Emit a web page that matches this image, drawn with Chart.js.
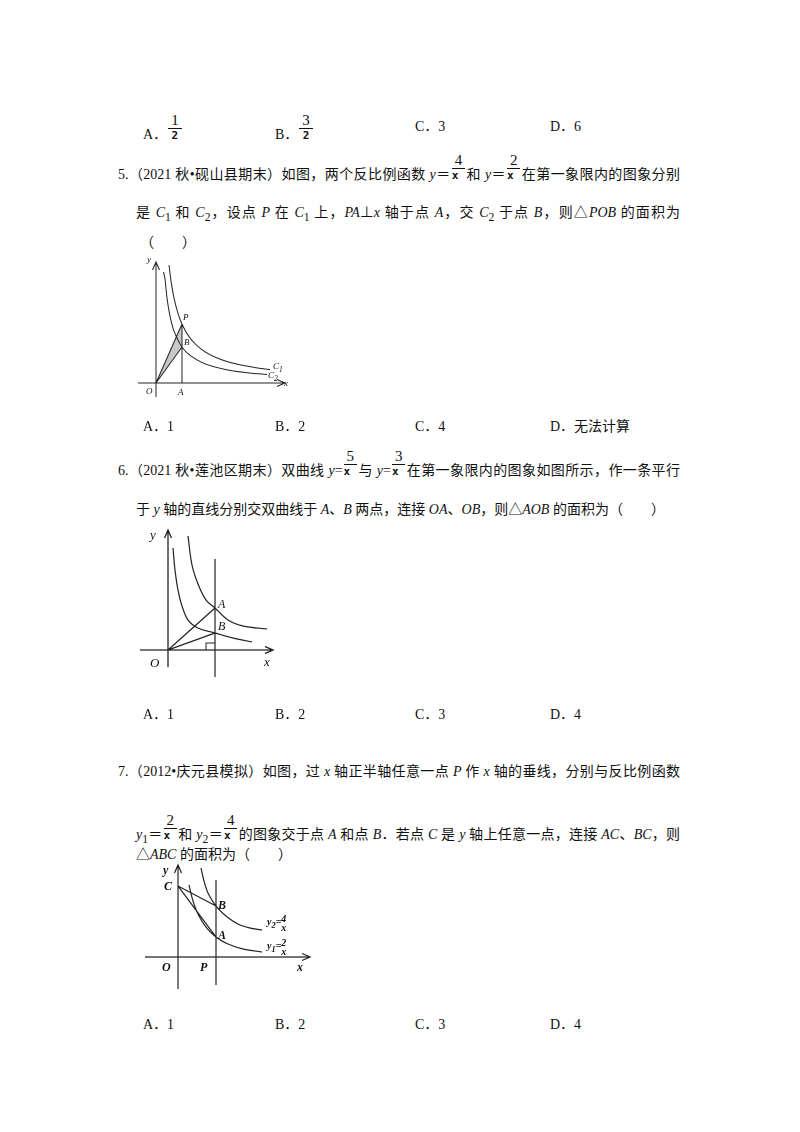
<!DOCTYPE html>
<html><head><meta charset="utf-8">
<script src="https://cdn.jsdelivr.net/npm/chart.js@4"></script>
<style>
body{margin:0;width:800px;height:1132px;background:#fff;position:relative;font-family:"Liberation Serif","Noto Sans CJK SC",serif;font-size:14px;color:#111}
.t{position:absolute;left:118px;width:562px;line-height:20px;white-space:nowrap}
.c{left:136px;width:544px}
.j{text-align:justify;text-align-last:justify}
.o{position:absolute;line-height:20px}
i{font-style:italic}
.fr{display:inline-block;text-align:center;margin:0 1px}
.fr .n{display:block;font-size:15px;border-bottom:1px solid #111;line-height:16px;padding:0 3px}
.fr .d{display:block;font-family:"DejaVu Sans Mono",monospace;font-size:11px;font-weight:bold;line-height:14px}
.lb{position:absolute;font-style:italic;font-family:"Liberation Serif",serif;font-size:9px}
canvas{position:absolute}
</style></head><body>
<div class="o" style="left:143px;top:112px">A．<span class="fr"><span class="n">1</span><span class="d">2</span></span></div>
<div class="o" style="left:275px;top:112px">B．<span class="fr"><span class="n">3</span><span class="d">2</span></span></div>
<div class="o" style="left:415px;top:117px">C．3</div>
<div class="o" style="left:550px;top:117px">D．6</div>

<div class="t j" style="top:152px">5.（2021 秋•砚山县期末）如图，两个反比例函数 <i>y</i>＝<span class="fr"><span class="n">4</span><span class="d">x</span></span>和 <i>y</i>＝<span class="fr"><span class="n">2</span><span class="d">x</span></span>在第一象限内的图象分别</div>
<div class="t c j" style="top:203px">是 <i>C</i><sub>1</sub> 和 <i>C</i><sub>2</sub>，设点 <i>P</i> 在 <i>C</i><sub>1</sub> 上，<i>PA</i>⊥<i>x</i> 轴于点 <i>A</i>，交 <i>C</i><sub>2</sub> 于点 <i>B</i>，则△<i>POB</i> 的面积为</div>
<div class="t" style="top:233px;left:140px">（　　）</div>
<canvas id="c1" width="154" height="145" style="left:136px;top:255px;width:154px;height:145px"></canvas>
<div class="lb" style="left:147px;top:254px">y</div>
<div class="lb" style="left:183px;top:312px">P</div>
<div class="lb" style="left:184px;top:337px">B</div>
<div class="lb" style="left:273px;top:361px">C<sub>1</sub></div>
<div class="lb" style="left:268px;top:370px">C<sub>2</sub></div>
<div class="lb" style="left:284px;top:378px">x</div>
<div class="lb" style="left:146px;top:386px">O</div>
<div class="lb" style="left:178px;top:387px">A</div>
<div class="o" style="left:143px;top:417px">A．1</div>
<div class="o" style="left:275px;top:417px">B．2</div>
<div class="o" style="left:415px;top:417px">C．4</div>
<div class="o" style="left:550px;top:417px">D．无法计算</div>

<div class="t j" style="top:448px">6.（2021 秋•莲池区期末）双曲线 <i>y</i>=<span class="fr"><span class="n">5</span><span class="d">x</span></span>与 <i>y</i>=<span class="fr"><span class="n">3</span><span class="d">x</span></span>在第一象限内的图象如图所示，作一条平行</div>
<div class="t c" style="top:500px">于 <i>y</i> 轴的直线分别交双曲线于 <i>A</i>、<i>B</i> 两点，连接 <i>OA</i>、<i>OB</i>，则△<i>AOB</i> 的面积为（　　）</div>
<canvas id="c2" width="140" height="160" style="left:138px;top:525px;width:140px;height:160px"></canvas>
<div class="lb" style="left:150px;top:527px;font-size:13px">y</div>
<div class="lb" style="left:218px;top:597px;font-size:12px">A</div>
<div class="lb" style="left:218px;top:619px;font-size:12px">B</div>
<div class="lb" style="left:150px;top:655px;font-size:13px">O</div>
<div class="lb" style="left:264px;top:654px;font-size:13px">x</div>
<div class="o" style="left:143px;top:705px">A．1</div>
<div class="o" style="left:275px;top:705px">B．2</div>
<div class="o" style="left:415px;top:705px">C．3</div>
<div class="o" style="left:550px;top:705px">D．4</div>

<div class="t j" style="top:762px">7.（2012•庆元县模拟）如图，过 <i>x</i> 轴正半轴任意一点 <i>P</i> 作 <i>x</i> 轴的垂线，分别与反比例函数</div>
<div class="t c j" style="top:812px"><i>y</i><sub>1</sub>＝<span class="fr"><span class="n">2</span><span class="d">x</span></span>和 <i>y</i><sub>2</sub>＝<span class="fr"><span class="n">4</span><span class="d">x</span></span>的图象交于点 <i>A</i> 和点 <i>B</i>．若点 <i>C</i> 是 <i>y</i> 轴上任意一点，连接 <i>AC</i>、<i>BC</i>，则</div>
<div class="t c" style="top:845px">△<i>ABC</i> 的面积为（　　）</div>
<canvas id="c3" width="180" height="135" style="left:140px;top:860px;width:180px;height:135px"></canvas>
<div class="lb" style="left:163px;top:863px;font-size:12px;font-weight:bold">y</div>
<div class="lb" style="left:164px;top:879px;font-size:12px;font-weight:bold">C</div>
<div class="lb" style="left:218px;top:898px;font-size:12px;font-weight:bold">B</div>
<div class="lb" style="left:218px;top:928px;font-size:12px;font-weight:bold">A</div>
<div class="lb" style="left:267px;top:914px;font-size:10px;font-weight:bold">y<sub>2</sub>=<span style="display:inline-block;vertical-align:middle;text-align:center;line-height:9px">4<br>x</span></div>
<div class="lb" style="left:267px;top:938px;font-size:10px;font-weight:bold">y<sub>1</sub>=<span style="display:inline-block;vertical-align:middle;text-align:center;line-height:9px">2<br>x</span></div>
<div class="lb" style="left:162px;top:960px;font-size:12px;font-weight:bold">O</div>
<div class="lb" style="left:200px;top:960px;font-size:12px;font-weight:bold">P</div>
<div class="lb" style="left:297px;top:960px;font-size:12px;font-weight:bold">x</div>
<div class="o" style="left:143px;top:1015px">A．1</div>
<div class="o" style="left:275px;top:1015px">B．2</div>
<div class="o" style="left:415px;top:1015px">C．3</div>
<div class="o" style="left:550px;top:1015px">D．4</div>

<script>
// figure 1 (units: 1 = 10px)
const f1C1 = [[1.3,11.8],[1.5,10.2],[1.8,8.5],[2.2,6.95],[2.6,5.9],[3.2,4.78],[4,3.83],[5,3.06],[6.5,2.35],[8,1.91],[10,1.53],[11.4,1.34]];
const f1C2 = [[0.75,11.1],[0.9,10.4],[1.1,8.5],[1.4,6.7],[1.8,5.2],[2.6,3.6],[3.5,2.7],[5,1.88],[7,1.34],[9,1.04],[11.1,0.85]];
const f1Tri = [[0,0],[2.6,5.9],[2.6,3.6]];
const f1PA = [[2.6,5.9],[2.6,0]];
// figure 2
const f2Outer = [[2.0,11.4],[2.4,8.5],[3,6.6],[3.8,5],[4.7,4.2],[6,3],[7.5,2.4],[9.9,2.1]];
const f2Inner = [[0.5,10.2],[0.7,8],[1,6],[1.4,4.4],[2,3],[3,2.2],[4.7,1.7],[6.5,1.2],[8.4,0.8]];
const f2Vert = [[4.7,9.1],[4.7,-2.7]];
const f2OA = [[0,0],[4.7,4.2]];
const f2OB = [[0,0],[4.7,1.7]];
const f2Sq = [[3.8,0],[3.8,0.7],[4.7,0.7]];
// figure 3
const f3Y2 = [[2.3,8.9],[2.6,7.6],[3,6.4],[3.8,5.1],[4.8,4.1],[6,3.3],[7.2,2.9],[8.4,2.7]];
const f3Y1 = [[1.1,7.2],[1.5,5.6],[2,4.3],[2.8,3],[3.8,2.0],[5,1.3],[6.5,0.8],[8.4,0.5]];
const f3Vert = [[3.8,7.7],[3.8,-2.8]];
const f3CB = [[0,7.1],[3.8,5.1]];
const f3CA = [[0,7.1],[3.8,2.0]];

const pts = a => a.map(p => ({x: p[0], y: p[1]}));
function ds(a, tension, w) {
  return {data: pts(a), showLine: true, pointRadius: 0, borderColor: '#222', borderWidth: w || 1, tension: tension || 0, fill: false};
}
function axes(xmin, xmax, ymin, ymax, w) {
  return [
    ds([[xmin,0],[xmax,0]], 0, w), ds([[0,ymin],[0,ymax]], 0, w),
    ds([[xmax-0.8,0.35],[xmax,0],[xmax-0.8,-0.35]], 0, w),
    ds([[-0.35,ymax-0.8],[0,ymax],[0.35,ymax-0.8]], 0, w)
  ];
}
const polyFill = {
  id: 'polyFill',
  beforeDatasetsDraw(chart, args, opts) {
    if (!opts.poly) return;
    const {ctx, scales: {x, y}} = chart;
    ctx.save();
    ctx.beginPath();
    opts.poly.forEach((p, i) => {
      const px = x.getPixelForValue(p[0]), py = y.getPixelForValue(p[1]);
      i ? ctx.lineTo(px, py) : ctx.moveTo(px, py);
    });
    ctx.closePath();
    ctx.fillStyle = '#c8c8c8';
    ctx.fill();
    ctx.restore();
  }
};
function make(id, xr, yr, datasets, poly) {
  new Chart(document.getElementById(id), {
    type: 'scatter',
    data: {datasets},
    plugins: [polyFill],
    options: {
      responsive: false, animation: false, devicePixelRatio: 2,
      layout: {padding: 0},
      plugins: {legend: {display: false}, tooltip: {enabled: false}, polyFill: {poly}},
      scales: {
        x: {type: 'linear', min: xr[0], max: xr[1], display: false},
        y: {type: 'linear', min: yr[0], max: yr[1], display: false}
      }
    }
  });
}

make('c1', [-2, 13.4], [-1.7, 12.8], [
  ...axes(-1.8, 12.9, -1.4, 12.1, 1),
  ds(f1C1, 0.35), ds(f1C2, 0.35), ds(f1PA),
  ds([f1Tri[0], f1Tri[1]]), ds([f1Tri[0], f1Tri[2]])
], f1Tri);

make('c2', [-3, 11], [-3.5, 12.5], [
  ...axes(-2.8, 10.5, -1.7, 12, 1.3),
  ds(f2Outer, 0.35, 1.2), ds(f2Inner, 0.35, 1.2), ds(f2Vert, 0, 1.2),
  ds(f2OA, 0, 1.2), ds(f2OB, 0, 1.2), ds(f2Sq, 0, 1)
]);

make('c3', [-3.8, 14.2], [-3.8, 9.7], [
  ...axes(-3.3, 13.2, -3.2, 9.2, 1.2),
  ds(f3Y2, 0.35, 1.2), ds(f3Y1, 0.35, 1.2), ds(f3Vert, 0, 1.2),
  ds(f3CB, 0, 1.2), ds(f3CA, 0, 1.2)
]);
</script>
</body></html>
